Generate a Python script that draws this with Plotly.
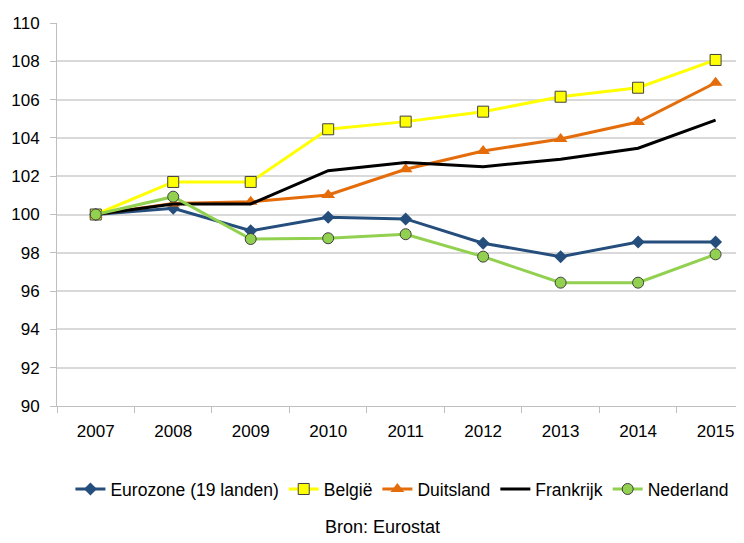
import plotly.graph_objects as go

years = ["2007", "2008", "2009", "2010", "2011", "2012", "2013", "2014", "2015"]
eurozone = [100.0, 100.32, 99.15, 99.85, 99.77, 98.5, 97.8, 98.56, 98.56]
belgie = [100.0, 101.7, 101.7, 104.45, 104.85, 105.37, 106.15, 106.62, 108.07]
duitsland = [100.0, 100.58, 100.67, 101.02, 102.36, 103.32, 103.94, 104.83, 106.88]
frankrijk = [100.0, 100.55, 100.55, 102.29, 102.72, 102.5, 102.88, 103.46, 104.93]
nederland = [100.0, 100.93, 98.72, 98.76, 98.97, 97.8, 96.44, 96.44, 97.92]
y_ticks = list(range(90, 111, 2))

FONT = "Liberation Sans, Arial, sans-serif"

fig = go.Figure()
fig.add_trace(go.Scatter(x=years, y=eurozone, name="Eurozone (19 landen)", mode="lines+markers",
                         line=dict(color="#254E7D", width=3),
                         marker=dict(symbol="diamond", size=10, color="#254E7D")))
fig.add_trace(go.Scatter(x=years, y=belgie, name="België", mode="lines+markers",
                         line=dict(color="#FFFF00", width=3),
                         marker=dict(symbol="square", size=11, color="#FFFF00",
                                     line=dict(color="#404040", width=1))))
fig.add_trace(go.Scatter(x=years, y=duitsland, name="Duitsland", mode="lines+markers",
                         line=dict(color="#E46C0A", width=3),
                         marker=dict(symbol="triangle-up", size=12, color="#E46C0A")))
fig.add_trace(go.Scatter(x=years, y=frankrijk, name="Frankrijk", mode="lines",
                         line=dict(color="#000000", width=3)))
fig.add_trace(go.Scatter(x=years, y=nederland, name="Nederland", mode="lines+markers",
                         line=dict(color="#92D050", width=3),
                         marker=dict(symbol="circle", size=11, color="#92D050",
                                     line=dict(color="#404040", width=1))))

fig.update_layout(
    width=744, height=543,
    margin=dict(l=49, r=0, t=15, b=145, autoexpand=False),
    paper_bgcolor="white", plot_bgcolor="white",
    font=dict(family=FONT, size=17, color="#000000"),
    showlegend=True,
    legend=dict(orientation="h", x=0.497, xanchor="center", y=-0.217, yanchor="middle",
                font=dict(size=17.5), itemwidth=30, tracegroupgap=0),
    annotations=[dict(text="Bron: Eurostat", x=0.468, xref="paper", y=-0.316, yref="paper",
                      xanchor="center", yanchor="middle", showarrow=False,
                      font=dict(size=18, family=FONT))],
)
fig.update_xaxes(type="category", range=[-0.5, 8.47], showgrid=False, automargin=False,
                 showline=True, linecolor="#BFBFBF", linewidth=1,
                 ticks="outside", tickson="boundaries", ticklen=6, tickcolor="#BFBFBF",
                 ticklabelstandoff=10, tickfont=dict(size=17))
fig.update_yaxes(range=[90, 110], tickvals=y_ticks, showgrid=True, gridcolor="#D9D9D9", gridwidth=1.5,
                 showline=True, linecolor="#BFBFBF", linewidth=1, automargin=False,
                 ticks="outside", ticklen=6, tickcolor="#BFBFBF",
                 ticklabelstandoff=7, tickfont=dict(size=17), zeroline=False)

fig.write_html("out.html")
